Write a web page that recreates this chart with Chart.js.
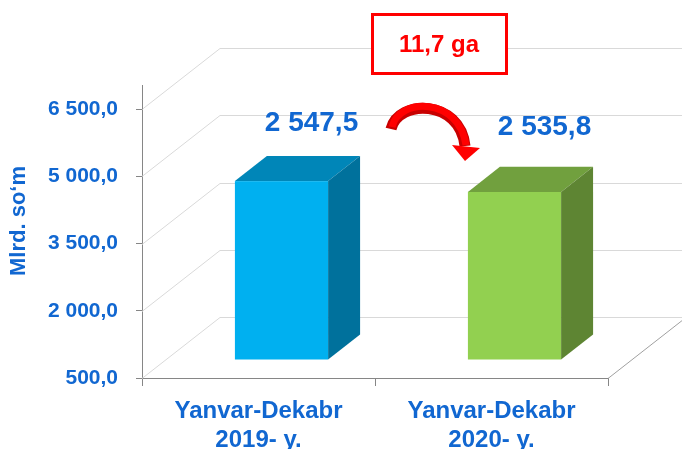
<!DOCTYPE html>
<html>
<head>
<meta charset="utf-8">
<script src="https://cdn.jsdelivr.net/npm/chart.js@4/dist/chart.umd.min.js"></script>
<style>
html,body{margin:0;padding:0;background:#fff;}
#wrap{width:682px;height:449px;position:relative;}
</style>
</head>
<body>
<div id="wrap"><canvas id="c" width="682" height="449"></canvas></div>
<script>
// ---- data ----
const categories = [['Yanvar-Dekabr', '2019- y.'], ['Yanvar-Dekabr', '2020- y.']];
const barHeights = [4490, 4250];          // bar heights as read against the drawn axis
const labelValues = [2547.5, 2535.8];     // data labels printed above the bars
const diffText = '11,7 ga';
const yTicks = [500, 2000, 3500, 5000, 6500];
const yTitle = 'Mlrd. so\u2018m';

// ---- styles ----
const FONT = '"Liberation Sans", Arial, sans-serif';
const BLUE = '#1167d1';
const frontColors = ['#00b0f0', '#92d050'];
const sideColors = ['#00719c', '#5e8533'];
const topColors = ['#0086b8', '#71a03e'];

function fmt(v) {
  const s = v.toFixed(1).split('.');
  const int = s[0].replace(/\B(?=(\d{3})+(?!\d))/g, ' ');
  return int + ',' + s[1];
}

const DEPTH_X = 78, DEPTH_Y = -61;  // perspective offset of the back wall
const F_FRONT = 0.295, F_BACK = 0.705;

const walls = {
  id: 'walls',
  beforeDatasetsDraw(chart) {
    const ctx = chart.ctx, y = chart.scales.y, a = chart.chartArea;
    ctx.save();
    ctx.lineWidth = 1;
    ctx.strokeStyle = '#d9d9d9';
    yTicks.forEach(v => {
      const py = Math.round(y.getPixelForValue(v)) + 0.5;
      ctx.beginPath();
      ctx.moveTo(a.left, py);
      ctx.lineTo(a.left + DEPTH_X, py + DEPTH_Y);
      ctx.lineTo(chart.width, py + DEPTH_Y);
      ctx.stroke();
    });
    // floor right edge
    ctx.strokeStyle = '#a0a0a0';
    ctx.beginPath();
    ctx.moveTo(a.right, a.bottom + 0.5);
    ctx.lineTo(a.right + DEPTH_X, a.bottom + 0.5 + DEPTH_Y);
    ctx.stroke();
    // axis line extension
    ctx.strokeStyle = '#868686';
    ctx.beginPath();
    ctx.moveTo(a.left + 0.5, 85);
    ctx.lineTo(a.left + 0.5, a.top);
    ctx.stroke();
    ctx.restore();
  }
};

const bars3d = {
  id: 'bars3d',
  afterDatasetsDraw(chart) {
    const ctx = chart.ctx;
    const meta = chart.getDatasetMeta(0);
    const dxF = F_FRONT * DEPTH_X, dyF = F_FRONT * DEPTH_Y;
    const sdx = (F_BACK - F_FRONT) * DEPTH_X, sdy = (F_BACK - F_FRONT) * DEPTH_Y;
    const labelDy = [-76, -83];
    ctx.save();
    meta.data.forEach((el, i) => {
      const p = el.getProps(['x', 'y', 'base', 'width'], true);
      const l = p.x - p.width / 2 + dxF, r = l + p.width;
      const t = p.y + dyF, b = p.base + dyF;
      ctx.fillStyle = frontColors[i];
      ctx.fillRect(l, t, p.width, b - t);
      ctx.fillStyle = topColors[i];
      ctx.beginPath();
      ctx.moveTo(l, t); ctx.lineTo(r, t); ctx.lineTo(r + sdx, t + sdy); ctx.lineTo(l + sdx, t + sdy);
      ctx.closePath(); ctx.fill();
      ctx.fillStyle = sideColors[i];
      ctx.beginPath();
      ctx.moveTo(r, t); ctx.lineTo(r + sdx, t + sdy); ctx.lineTo(r + sdx, b + sdy); ctx.lineTo(r, b);
      ctx.closePath(); ctx.fill();
      // value label
      ctx.fillStyle = BLUE;
      ctx.font = 'bold 28px ' + FONT;
      ctx.textAlign = 'center';
      ctx.textBaseline = 'middle';
      ctx.fillText(fmt(labelValues[i]), p.x + 53, p.y + labelDy[i]);
    });
    ctx.restore();
  }
};

const extras = {
  id: 'extras',
  afterDraw(chart) {
    const ctx = chart.ctx;
    ctx.save();
    // y axis title
    ctx.translate(19, 221);
    ctx.rotate(-Math.PI / 2);
    ctx.fillStyle = BLUE;
    ctx.font = 'bold 22px ' + FONT;
    ctx.textAlign = 'center';
    ctx.textBaseline = 'middle';
    ctx.fillText(yTitle, 0, 0);
    ctx.restore();

    // difference box
    ctx.save();
    ctx.fillStyle = '#fff';
    ctx.fillRect(372, 14, 135, 60);
    ctx.strokeStyle = '#ff0000';
    ctx.lineWidth = 3;
    ctx.strokeRect(372.5, 14.5, 134, 59);
    ctx.fillStyle = '#ff0000';
    ctx.font = 'bold 24px ' + FONT;
    ctx.textAlign = 'center';
    ctx.textBaseline = 'middle';
    ctx.fillText(diffText, 439, 45);
    ctx.restore();

    // curved arrow
    ctx.save();
    ctx.lineCap = 'butt';
    ctx.beginPath();
    ctx.moveTo(391, 129);
    ctx.bezierCurveTo(398, 99, 460, 99, 465, 146);
    ctx.strokeStyle = '#c80000';
    ctx.lineWidth = 11;
    ctx.stroke();
    ctx.beginPath();
    ctx.moveTo(392, 127);
    ctx.bezierCurveTo(399, 97, 459, 97, 466, 145);
    ctx.strokeStyle = '#ff0000';
    ctx.lineWidth = 7;
    ctx.stroke();
    ctx.fillStyle = '#ff0000';
    ctx.beginPath();
    ctx.moveTo(452, 145);
    ctx.lineTo(480, 148);
    ctx.lineTo(465, 161);
    ctx.closePath();
    ctx.fill();
    ctx.restore();
  }
};

new Chart(document.getElementById('c'), {
  type: 'bar',
  data: {
    labels: categories,
    datasets: [{
      data: barHeights,
      base: 500,
      backgroundColor: 'rgba(0,0,0,0)',
      borderWidth: 0,
      barPercentage: 0.4,
      categoryPercentage: 1.0
    }]
  },
  options: {
    responsive: false,
    animation: false,
    devicePixelRatio: 1,
    events: [],
    layout: { padding: { top: 109, right: 74, left: 0, bottom: 0 } },
    plugins: { legend: { display: false }, tooltip: { enabled: false } },
    scales: {
      x: {
        afterFit(s) { s.height = 71; },
        grid: { drawOnChartArea: false, color: '#868686', tickLength: 8, offset: true },
        border: { display: true, color: '#868686' },
        ticks: {
          color: BLUE,
          font: { family: FONT, size: 24, weight: 'bold', lineHeight: 1.2 },
          padding: 11,
          maxRotation: 0
        }
      },
      y: {
        min: 500,
        max: 6500,
        afterFit(s) { s.width = 142; },
        afterBuildTicks(s) { s.ticks = yTicks.map(v => ({ value: v })); },
        grid: { drawOnChartArea: false, color: '#868686', tickLength: 6 },
        border: { display: true, color: '#868686' },
        ticks: {
          color: BLUE,
          font: { family: FONT, size: 21, weight: 'bold' },
          padding: 18,
          callback: v => fmt(v)
        }
      }
    }
  },
  plugins: [walls, bars3d, extras]
});
</script>
</body>
</html>
